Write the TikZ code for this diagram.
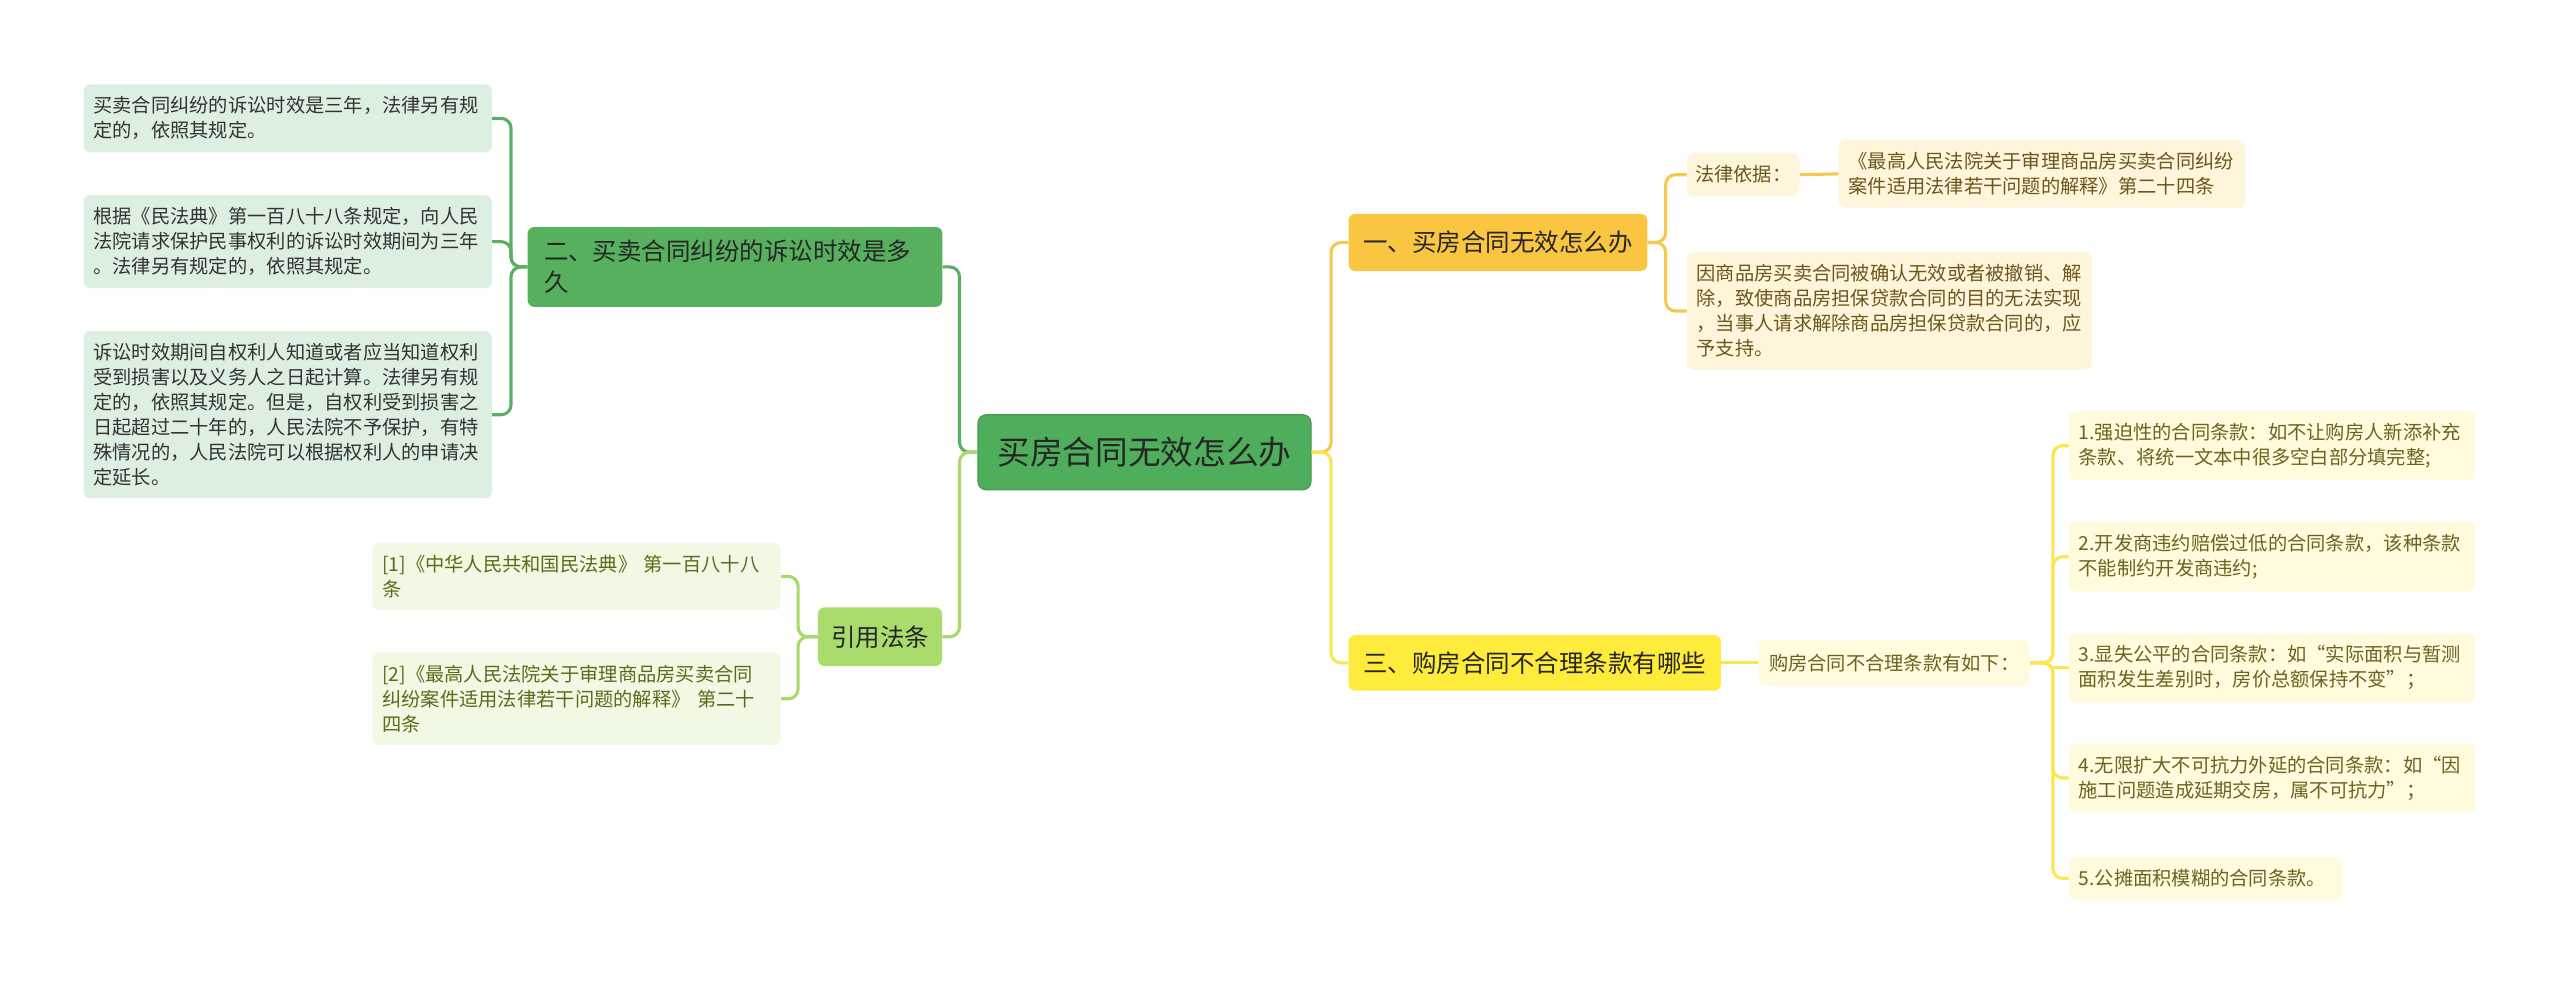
\documentclass[tikz,border=0pt]{standalone}
\usepackage{fontspec}
\setmainfont{Noto Sans CJK SC}
\usepackage{xcolor}
\usepackage{tikz}

\definecolor{rootfill}{HTML}{4FAE5B}
\definecolor{gfill}{HTML}{56B05E}
\definecolor{gline}{HTML}{5BAF63}
\definecolor{gleaf}{HTML}{DDEFE0}
\definecolor{lgfill}{HTML}{A9DC6C}
\definecolor{lgline}{HTML}{A8DA6B}
\definecolor{lgleaf}{HTML}{F0F9E3}
\definecolor{lgtext}{HTML}{5A6B1B}
\definecolor{ofill}{HTML}{FAC641}
\definecolor{oline}{HTML}{F7C74E}
\definecolor{oleaf}{HTML}{FFF5DA}
\definecolor{otext}{HTML}{6B561E}
\definecolor{yfill}{HTML}{FEEB3B}
\definecolor{yline}{HTML}{FAE64D}
\definecolor{yleaf}{HTML}{FFFBDC}
\definecolor{ytext}{HTML}{6A6420}

\begin{document}
\begin{tikzpicture}[
  x=1pt, y=-1pt,
  root/.style={rounded corners=5pt, fill=rootfill, draw=rootfill!85!black, line width=0.6pt,
               minimum width=204pt, minimum height=46pt, inner sep=2pt,
               font=\fontsize{20pt}{24pt}\selectfont, text=black!85},
  branch/.style={rounded corners=4pt, inner xsep=10pt, inner ysep=8pt, align=left,
                 font=\fontsize{15pt}{19pt}\selectfont, text=black!85},
  leaf/.style={rounded corners=4pt, inner xsep=6pt, inner ysep=7.5pt, align=left, anchor=west,
               text width=#1, font=\fontsize{11.8pt}{15.3pt}\selectfont},
  leaf/.default=238pt,
  tag/.style={rounded corners=4pt, inner xsep=5pt, inner ysep=2pt, anchor=west,
              font=\fontsize{11.8pt}{15.3pt}\selectfont},
  link/.style={line width=1.9pt, rounded corners=6pt},
]
\useasboundingbox (0,0) rectangle (1568,603);

\node[root] (C) at (701,277) {买房合同无效怎么办};

\node[branch, fill=gfill, anchor=west, text width=234pt] (B2) at (323,163.5)
  {二、买卖合同纠纷的诉讼时效是多\\久};
\node[branch, fill=lgfill, minimum width=76pt, minimum height=36pt, inner xsep=2pt] (refs) at (539,390) {引用法条};
\node[branch, fill=ofill, minimum width=183pt, minimum height=35pt, inner xsep=2pt] (B1) at (917.5,148.5) {一、买房合同无效怎么办};
\node[branch, fill=yfill, minimum width=228pt, minimum height=34pt, inner xsep=2pt] (B3) at (940,406) {三、购房合同不合理条款有哪些};

\node[leaf, fill=gleaf, text=black!80] (L1) at (51,72.5)
  {买卖合同纠纷的诉讼时效是三年，法律另有规\\定的，依照其规定。};
\node[leaf, fill=gleaf, text=black!80] (L2) at (51,148)
  {根据《民法典》第一百八十八条规定，向人民\\法院请求保护民事权利的诉讼时效期间为三年\\。法律另有规定的，依照其规定。};
\node[leaf, fill=gleaf, text=black!80] (L3) at (51,254)
  {诉讼时效期间自权利人知道或者应当知道权利\\受到损害以及义务人之日起计算。法律另有规\\定的，依照其规定。但是，自权利受到损害之\\日起超过二十年的，人民法院不予保护，有特\\殊情况的，人民法院可以根据权利人的申请决\\定延长。};

\node[leaf, fill=lgleaf, text=lgtext] (R1) at (228,353)
  {[1]《中华人民共和国民法典》 第一百八十八\\条};
\node[leaf, fill=lgleaf, text=lgtext] (R2) at (228,428)
  {[2]《最高人民法院关于审理商品房买卖合同\\纠纷案件适用法律若干问题的解释》 第二十\\四条};

\node[tag, fill=oleaf, text=otext, minimum width=68pt, minimum height=26pt] (law) at (1033,107) {法律依据：};
\node[leaf=237pt, fill=oleaf, text=otext] (lawtxt) at (1126,106.5)
  {《最高人民法院关于审理商品房买卖合同纠纷\\案件适用法律若干问题的解释》第二十四条};
\node[leaf=236pt, fill=oleaf, text=otext] (reason) at (1033,190.5)
  {因商品房买卖合同被确认无效或者被撤销、解\\除，致使商品房担保贷款合同的目的无法实现\\，当事人请求解除商品房担保贷款合同的，应\\予支持。};

\node[tag, fill=yleaf, text=ytext, minimum width=166pt, minimum height=28pt] (H3) at (1077,406) {购房合同不合理条款有如下：};
\node[leaf=237pt, fill=yleaf, text=ytext] (I1) at (1267,273)
  {1.强迫性的合同条款：如不让购房人新添补充\\条款、将统一文本中很多空白部分填完整;};
\node[leaf=237pt, fill=yleaf, text=ytext] (I2) at (1267,341)
  {2.开发商违约赔偿过低的合同条款，该种条款\\不能制约开发商违约;};
\node[leaf=237pt, fill=yleaf, text=ytext] (I3) at (1267,409)
  {3.显失公平的合同条款：如“实际面积与暂测\\面积发生差别时，房价总额保持不变”；};
\node[leaf=237pt, fill=yleaf, text=ytext] (I4) at (1267,476.5)
  {4.无限扩大不可抗力外延的合同条款：如“因\\施工问题造成延期交房，属不可抗力”；};
\node[leaf=156pt, fill=yleaf, text=ytext] (I5) at (1267,538)
  {5.公摊面积模糊的合同条款。};
\coordinate (hb) at ([xshift=14pt]H3.east);

\draw[link, gline]  (C.west) -- ++(-11,0) |- (B2.east);
\draw[link, lgline] (C.west) -- ++(-11,0) |- (refs.east);
\draw[link, oline]  (C.east) -- ++(12,0) |- (B1.west);
\draw[link, yline]  (C.east) -- ++(12,0) |- (B3.west);

\draw[link, gline] (B2.west) -- ++(-10,0) |- (L1.east);
\draw[link, gline] (B2.west) -- ++(-10,0) |- (L2.east);
\draw[link, gline] (B2.west) -- ++(-10,0) |- (L3.east);

\draw[link, lgline] (refs.west) -- ++(-12,0) |- (R1.east);
\draw[link, lgline] (refs.west) -- ++(-12,0) |- (R2.east);

\draw[link, oline] (B1.east) -- ++(11,0) |- (law.west);
\draw[link, oline] (B1.east) -- ++(11,0) |- (reason.west);
\draw[link, oline] (law.east) -- (lawtxt.west);

\draw[link, yline] (B3.east) -- (H3.west);
\draw[link, yline] (H3.east) -- (hb) |- (I1.west);
\draw[link, yline] (H3.east) -- (hb) |- (I2.west);
\draw[link, yline] (hb |- I3.west) -- (I3.west);
\draw[link, yline] (H3.east) -- (hb) |- (I4.west);
\draw[link, yline] (H3.east) -- (hb) |- (I5.west);
\end{tikzpicture}
\end{document}
